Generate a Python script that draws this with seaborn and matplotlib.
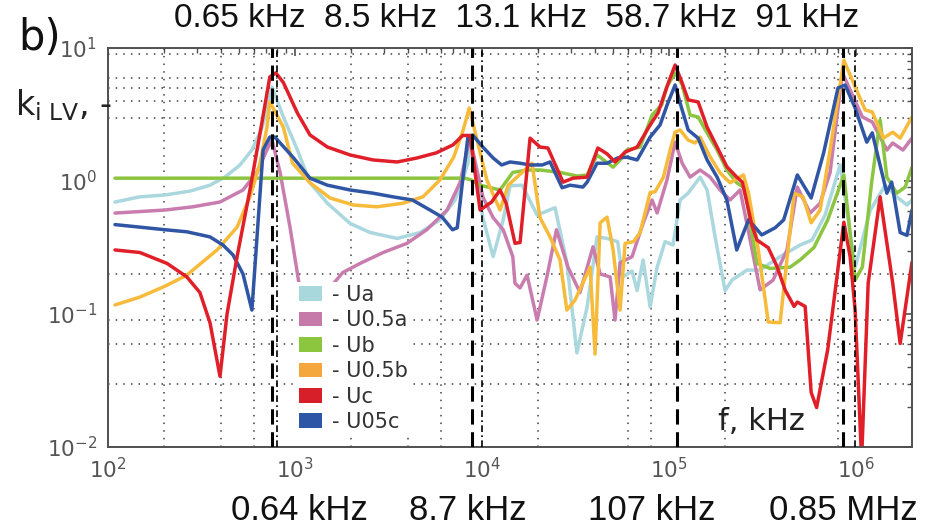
import math
import matplotlib
matplotlib.use("Agg")
import matplotlib.pyplot as plt
from matplotlib.patches import Patch
from matplotlib.ticker import LogLocator, FuncFormatter, NullFormatter
import pandas as pd
import seaborn as sns

sns.set_style("white")
plt.rcParams["font.family"] = ["Liberation Sans", "DejaVu Sans"]
plt.rcParams["mathtext.fontset"] = "custom"
plt.rcParams["mathtext.rm"] = "DejaVu Sans"
plt.rcParams["mathtext.it"] = "DejaVu Sans:italic"
plt.rcParams["mathtext.bf"] = "DejaVu Sans:bold"

# ---- measured transfer coefficients k_i LV versus frequency (Hz) ----
ua_f = [109, 148, 202, 275, 351, 422, 508, 588, 665, 717,
        753, 866, 1030, 1202, 1490, 1968, 2518, 3520, 4660, 5961,
        7170, 7880, 8400, 8730, 10100, 11460, 12970, 14120, 16370, 19700,
        24570, 28450, 32150, 36450, 41200, 46600, 53100, 56400, 63400, 67500,
        72600, 79200, 86300, 95200, 105000, 114500, 126400, 146500, 159700, 176200,
        199300, 217000, 261000, 306700, 392400, 502000, 581000, 683000, 821600, 988300,
        1189000, 1430000, 1650000, 1870000, 1990000]
ua_k = [0.695, 0.76, 0.785, 0.84, 0.93, 1.07, 1.32, 1.71, 2.5, 3.73,
        5.09, 3.03, 1.71, 0.97, 0.68, 0.48, 0.41, 0.37, 0.41, 0.51,
        0.72, 1.02, 1.36, 2.0, 0.53, 0.27, 0.51, 0.92, 0.93, 0.555,
        0.63, 0.24, 0.051, 0.113, 0.38, 0.37, 0.35, 0.19, 0.21, 0.15,
        0.255, 0.113, 0.225, 0.35, 0.33, 0.72, 0.81, 1.07, 0.856, 0.38,
        0.15, 0.18, 0.214, 0.214, 0.27, 0.33, 0.36, 0.555, 1.32, 0.225,
        0.6, 0.93, 0.76, 0.66, 0.72]

u05a_f = [109, 202, 285, 397, 527, 625, 707, 753, 832, 940,
          1063, 1150, 1505, 1800, 2227, 2960, 3970, 5060, 6500, 7625,
          8400, 8730, 10100, 11460, 12970, 14600, 15000, 15970, 17400, 19700,
          22200, 25000, 28800, 33400, 39200, 42800, 48400, 51400, 54700, 63400,
          72600, 81100, 86300, 97500, 107700, 117500, 129500, 146500, 165700, 187400,
          212000, 239800, 306700, 360000, 427000, 485000, 567800, 642000, 726000, 845000,
          1080000, 1220000, 1460000, 1570000, 1780000, 1990000]
u05a_k = [0.574, 0.605, 0.64, 0.695, 0.856, 1.16, 1.71, 2.03, 1.16, 0.45,
          0.152, 0.09, 0.152, 0.205, 0.24, 0.29, 0.34, 0.43, 0.605, 0.97,
          1.8, 1.93, 0.76, 0.53, 0.43, 0.27, 0.17, 0.157, 0.196, 0.09,
          0.19, 0.43, 0.225, 0.145, 0.32, 0.2, 0.19, 0.09, 0.243, 0.27,
          0.48, 0.72, 0.575, 1.02, 1.96, 1.36, 1.07, 1.21, 1.07, 0.856,
          0.72, 0.856, 0.152, 0.18, 0.303, 0.9, 0.574, 0.68, 1.16, 6.5,
          3.03, 2.78, 1.71, 1.93, 1.71, 2.1]

ub_f = [109, 8110, 8730, 9760, 12480, 14600, 17400, 20420, 26100, 32200,
        36450, 41200, 50200, 54700, 59400, 70000, 81100, 91300, 97000, 107700,
        117500, 129500, 143000, 159700, 180600, 203700, 230000, 255000, 277000, 295000,
        347000, 443800, 502000, 595000, 705000, 860000, 988300, 1080000, 1210000, 1344000,
        1460000, 1650000, 1830000, 1990000]
ub_k = [1.05, 1.05, 1.02, 0.93, 0.856, 1.16, 1.21, 1.21, 1.16, 1.09,
        1.11, 1.57, 1.27, 1.44, 1.71, 1.8, 3.13, 3.73, 5.09, 6.5,
        5.3, 3.13, 3.03, 2.3, 1.71, 1.21, 0.97, 0.88, 0.41, 0.24,
        0.22, 0.225, 0.255, 0.316, 0.51, 1.11, 0.18, 0.225, 0.97, 2.88,
        1.07, 0.81, 0.9, 1.27]

u05b_f = [109, 148, 202, 264, 330, 383, 490, 574, 650, 708,
          733, 866, 970, 1202, 1540, 2050, 2740, 3770, 4830, 5960,
          7050, 7930, 8540, 10600, 12480, 13800, 15600, 18500, 20400, 23100,
          26100, 28400, 31400, 37800, 40200, 42800, 46600, 50200, 54700, 58200,
          64500, 70000, 79200, 84200, 93300, 101300, 107700, 114500, 126500, 137800,
          146500, 165700, 187400, 212000, 250000, 266000, 300000, 339000, 392400, 466000,
          520000, 575000, 642000, 726000, 860000, 988000, 1118000, 1220000, 1400000, 1570000,
          1720000, 1990000]
u05b_k = [0.117, 0.134, 0.162, 0.196, 0.255, 0.303, 0.45, 0.76, 1.36, 2.54,
          3.93, 2.54, 1.36, 0.97, 0.745, 0.66, 0.64, 0.68, 0.76, 1.02,
          1.51, 2.42, 3.54, 1.02, 0.605, 0.93, 1.09, 1.36, 0.53, 0.38,
          0.255, 0.107, 0.127, 0.225, 0.05, 0.485, 0.535, 0.303, 0.107, 0.34,
          0.35, 0.41, 0.82, 0.83, 1.07, 1.71, 2.33, 2.42, 2.03, 1.93,
          2.14, 1.52, 1.15, 0.97, 1.11, 0.81, 0.303, 0.087, 0.086, 0.81,
          0.76, 0.485, 0.605, 1.71, 8.1, 5.1, 3.42, 3.3, 2.1, 2.33,
          2.1, 3.03]

uc_f = [109, 148, 207, 264, 310, 351, 397, 433, 490, 574,
        665, 733, 790, 866, 1030, 1202, 1490, 1968, 2610, 3520,
        4490, 5710, 7000, 7880, 8630, 9760, 11250, 12480, 13460, 15000,
        15970, 18060, 20420, 22500, 27100, 30600, 36450, 41600, 46600, 51400,
        54700, 58200, 67500, 79200, 87200, 99000, 107700, 117500, 126500, 143000,
        159700, 180600, 203700, 230000, 246500, 277000, 295000, 339000, 379000, 417000,
        466000, 485000, 534000, 575000, 615000, 705000, 860000, 929000, 988000, 1070000,
        1160000, 1344000, 1570000, 1720000, 1990000]
uc_k = [0.303, 0.29, 0.24, 0.19, 0.145, 0.086, 0.034, 0.1, 0.27, 0.856,
        2.74, 6.05, 6.5, 5.5, 3.24, 2.22, 1.8, 1.57, 1.44, 1.39,
        1.49, 1.63, 1.87, 2.2, 2.2, 0.605, 0.695, 0.856, 0.68, 0.34,
        0.345, 2.1, 1.8, 1.77, 0.98, 1.05, 1.07, 1.77, 1.6, 1.39,
        1.51, 1.65, 1.8, 2.64, 3.24, 5.45, 7.45, 5.45, 4.07, 3.93,
        2.54, 1.8, 1.28, 1.07, 0.98, 0.467, 0.36, 0.315, 0.225, 0.152,
        0.114, 0.123, 0.114, 0.0257, 0.0198, 0.054, 0.49, 0.27, 0.107, 0.008,
        0.17, 0.76, 0.17, 0.06, 0.245]

u05c_f = [109, 148, 202, 264, 351, 412, 466, 527, 588, 675,
          733, 780, 975, 1202, 1490, 1968, 2610, 3340, 4240, 5270,
          6120, 6950, 7370, 7880, 8400, 8900, 10100, 11460, 12720, 14120,
          15970, 18060, 21000, 23100, 26800, 29550, 34600, 36450, 41200, 46600,
          53100, 59400, 67500, 79200, 89500, 97600, 107700, 114500, 126500, 143000,
          159700, 180600, 203700, 230000, 266000, 313000, 369000, 410000, 485000, 575000,
          670000, 800000, 874000, 988000, 1140000, 1220000, 1460000, 1550000, 1720000, 1870000,
          1990000]
u05c_k = [0.47, 0.45, 0.43, 0.415, 0.38, 0.33, 0.278, 0.2, 0.107, 1.71,
          2.14, 2.14, 1.51, 1.05, 0.93, 0.856, 0.81, 0.76, 0.72, 0.605,
          0.535, 0.43, 0.445, 1.02, 2.14, 2.22, 1.8, 1.49, 1.32, 1.39,
          1.36, 1.32, 1.32, 1.39, 0.89, 0.93, 0.9, 0.98, 1.36, 1.36,
          1.49, 1.51, 1.44, 2.14, 2.64, 3.73, 5.27, 3.86, 2.42, 2.1,
          1.44, 1.07, 0.72, 0.303, 0.51, 0.393, 0.445, 0.51, 1.11, 0.745,
          1.62, 5.0, 5.27, 3.54, 1.96, 2.3, 0.81, 0.98, 0.41, 0.39,
          0.605]

series_names = ["Ua", "U0.5a", "Ub", "U0.5b", "Uc", "U05c"]
series_data = {
    "Ua": (ua_f, ua_k),
    "U0.5a": (u05a_f, u05a_k),
    "Ub": (ub_f, ub_k),
    "U0.5b": (u05b_f, u05b_k),
    "Uc": (uc_f, uc_k),
    "U05c": (u05c_f, u05c_k),
}
line_colors = {"Ua": "#aad8de", "U0.5a": "#c97dae", "Ub": "#8cc540",
               "U0.5b": "#f6bb3a", "Uc": "#e01f29", "U05c": "#2f55a4"}
patch_colors = {"Ua": "#a9d8dc", "U0.5a": "#c67aa9", "Ub": "#8cc63f",
                "U0.5b": "#f4a73c", "Uc": "#d71f2a", "U05c": "#2e56a6"}
draw_order = ["Ua", "U0.5a", "Ub", "U0.5b", "U05c", "Uc"]

# resonance markers (dashed) and auxiliary markers (dash-dot), Hz
dashed_f = [753, 8840, 110000, 852000]
dashdot_f = [800, 10000, 990000]
bottom_labels = ["0.64 kHz", "8.7 kHz", "107 kHz", "0.85 MHz"]
top_labels = "0.65 kHz  8.5 kHz  13.1 kHz  58.7 kHz  91 kHz"

# dotted grid positions
grid_x = [200, 400, 600, 2000, 4000, 6000, 20000, 60000, 80000, 200000, 800000]
grid_y = [0.03, 0.06, 0.09, 0.2, 3, 4, 5, 6, 9]

df = pd.concat(
    [pd.DataFrame({"f": f, "k": k, "series": n}) for n, (f, k) in series_data.items()],
    ignore_index=True,
)

fig = plt.figure(figsize=(9.26, 5.26), dpi=100)
ax = fig.add_axes([108 / 926, 1 - 447 / 526, 804 / 926, 399 / 526])
ax.set_xscale("log")
ax.set_yscale("log")
ax.set_xlim(100, 1.99e6)
ax.set_ylim(0.01, 10)

for gx in grid_x:
    ax.axvline(gx, color="#111111", lw=1.1, ls=(0, (1, 4)), alpha=0.8, zorder=1)
for gy in grid_y:
    ax.axhline(gy, color="#111111", lw=1.1, ls=(0, (1, 4)), alpha=0.8, zorder=1)

for i, name in enumerate(draw_order):
    sns.lineplot(data=df[df["series"] == name], x="f", y="k", ax=ax,
                 color=line_colors[name], lw=2.5, estimator=None, sort=False,
                 legend=False, zorder=2 + i * 0.01)

for fx in dashed_f:
    ax.axvline(fx, color="black", lw=2.2, ls=(0, (5, 2.5)), zorder=4)
for fx in dashdot_f:
    ax.axvline(fx, color="black", lw=1.2, ls=(0, (4, 2, 1, 2)), zorder=4)

# axes frame and ticks
for sp in ax.spines.values():
    sp.set_color("#505050")
    sp.set_linewidth(1.4)
ax.xaxis.set_major_locator(LogLocator(base=10, numticks=10))
ax.yaxis.set_major_locator(LogLocator(base=10, numticks=10))
ax.xaxis.set_minor_locator(LogLocator(base=10, subs=range(2, 10), numticks=20))
ax.yaxis.set_minor_locator(LogLocator(base=10, subs=range(2, 10), numticks=20))
sci = FuncFormatter(lambda v, p: r"$\mathdefault{10^{%d}}$" % round(math.log10(v)))
ax.xaxis.set_major_formatter(sci)
ax.yaxis.set_major_formatter(sci)
ax.xaxis.set_minor_formatter(NullFormatter())
ax.yaxis.set_minor_formatter(NullFormatter())
ax.tick_params(which="both", direction="in", top=True, right=True, color="#505050")
ax.tick_params(which="major", length=6, width=1.2)
ax.tick_params(which="minor", length=3.5, width=1.0)
ax.tick_params(axis="both", which="major", labelsize=15.5, labelcolor="#555555",
               labelfontfamily="DejaVu Sans")
ax.tick_params(axis="x", pad=7)
ax.tick_params(axis="y", pad=8)
ax.set_xlabel("")
ax.set_ylabel("")

# legend with solid swatches
handles = [Patch(facecolor=patch_colors[n], edgecolor="none", label=f"- {n}") for n in series_names]
leg = ax.legend(handles=handles, loc="upper left", bbox_to_anchor=(0.234, 0.414),
                frameon=True, fancybox=False, borderpad=0.15, borderaxespad=0,
                handlelength=1.1, handleheight=0.7, handletextpad=0.45,
                labelspacing=0.26, prop={"family": "DejaVu Sans", "size": 15})
leg.get_frame().set_facecolor("white")
leg.get_frame().set_edgecolor("none")
leg.get_frame().set_alpha(1.0)
leg.set_zorder(6)
for t in leg.get_texts():
    t.set_color("#333333")

# annotations
ax.text(718 / 926, 1 - 430 / 526, "f, kHz", transform=fig.transFigure,
        fontsize=22, family="DejaVu Sans", color="#222222", ha="left", va="baseline")
fig.text(15 / 926, 1 - 115 / 526, r"k$_{\mathrm{i\ LV}}$, -", fontsize=24,
         family="DejaVu Sans", color="#222222", ha="left", va="baseline")
fig.text(18 / 926, 1 - 50 / 526, "b)", fontsize=30, family="DejaVu Sans",
         color="#111111", ha="left", va="baseline")

label_x = [299, 468, 652, 843]
for lx, lab in zip(label_x, bottom_labels):
    fig.text(lx / 926, 1 - 520 / 526, lab, fontsize=25, color="#111111",
             ha="center", va="baseline")
fig.text(517 / 926, 1 - 27 / 526, top_labels, fontsize=24, color="#111111",
         ha="center", va="baseline")

fig.savefig("out.png", dpi=100, facecolor="white")
